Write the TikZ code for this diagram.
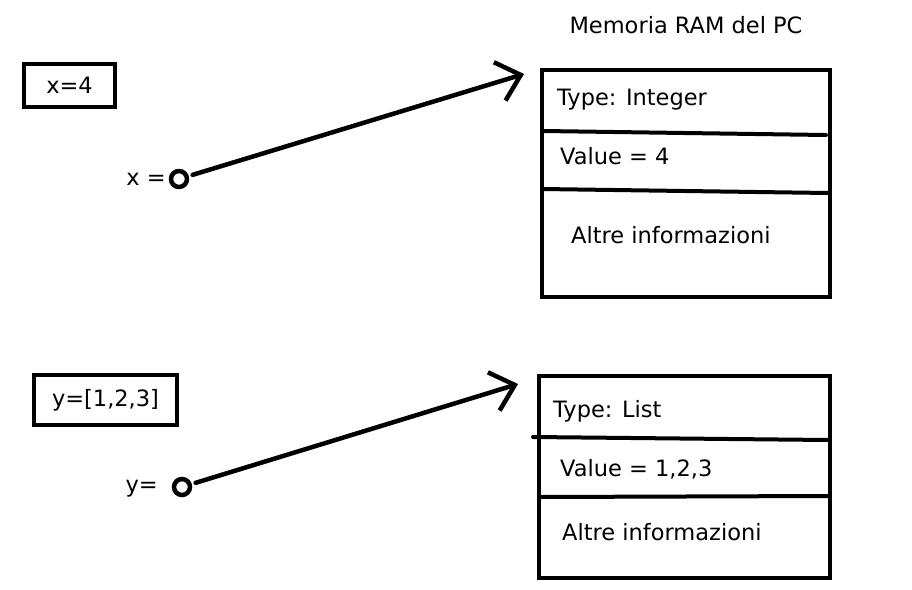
\documentclass[tikz,border=0pt]{standalone}
\usepackage{fontspec}
\setmainfont{DejaVu Sans}
\usetikzlibrary{arrows.meta}

\begin{document}
\begin{tikzpicture}[x=1pt, y=-1pt,
          every node/.style={font=\fontsize{22.5}{27}\selectfont},
          var/.style={draw, line width=4.5pt, inner sep=0pt},
          mem/.style={draw, line width=4pt, anchor=north west, inner sep=0pt},
          txt/.style={inner sep=0pt, anchor=base west},
          pin/.style={circle, draw, line width=4.5pt, minimum size=16pt, inner sep=0pt},
          sep/.style={line width=4pt, line cap=round},
          ptr/.style={line width=4.5pt, line cap=round, line join=round, shorten <=4pt,
                      -{Straight Barb[length=22pt, width=40pt, line width=4.5pt]}}]
        \useasboundingbox (0,0) rectangle (912,589);
        \node (title) at (686,25) {Memoria RAM del PC};
        % variabile x
        \node[var, minimum width=91pt, minimum height=43pt] (bx) at (69.5,85.5) {x=4};
        \node[pin] (px) at (179,179) {};
        \node[anchor=east, inner sep=0pt] (lx) at (166,179) {x =};
        \node[mem, minimum width=288pt, minimum height=227pt] (ram1) at (540,68) {};
        \node[txt] (t1) at (557,105) {Type: Integer};
        \node[txt] (v1) at (560,164) {Value = 4};
        \node[txt] (a1) at (571,243) {Altre informazioni};
        \draw[sep] (543,131) -- (826,135);
        \draw[sep] (542,189) -- (828,193);
        \coordinate (h1) at (524,74);
        \draw[ptr] (px) -- (h1);
        % variabile y
        \node[var, minimum width=143pt, minimum height=50pt] (by) at (105.5,400) {y=[1,2,3]};
        \node[pin] (py) at (182,487) {};
        \node[anchor=east, inner sep=0pt] (ly) at (158,489) {y=};
        \node[mem, minimum width=291pt, minimum height=202pt] (ram2) at (537,374) {};
        \node[txt] (t2) at (553,417) {Type: List};
        \node[txt] (v2) at (560,476) {Value = 1,2,3};
        \node[txt] (a2) at (562,540) {Altre informazioni};
        \draw[sep] (533,437) -- (828,440);
        \draw[sep] (540,497) -- (828,496);
        \coordinate (h2) at (518,384);
        \draw[ptr] (py) -- (h2);
      \end{tikzpicture}
\end{document}
